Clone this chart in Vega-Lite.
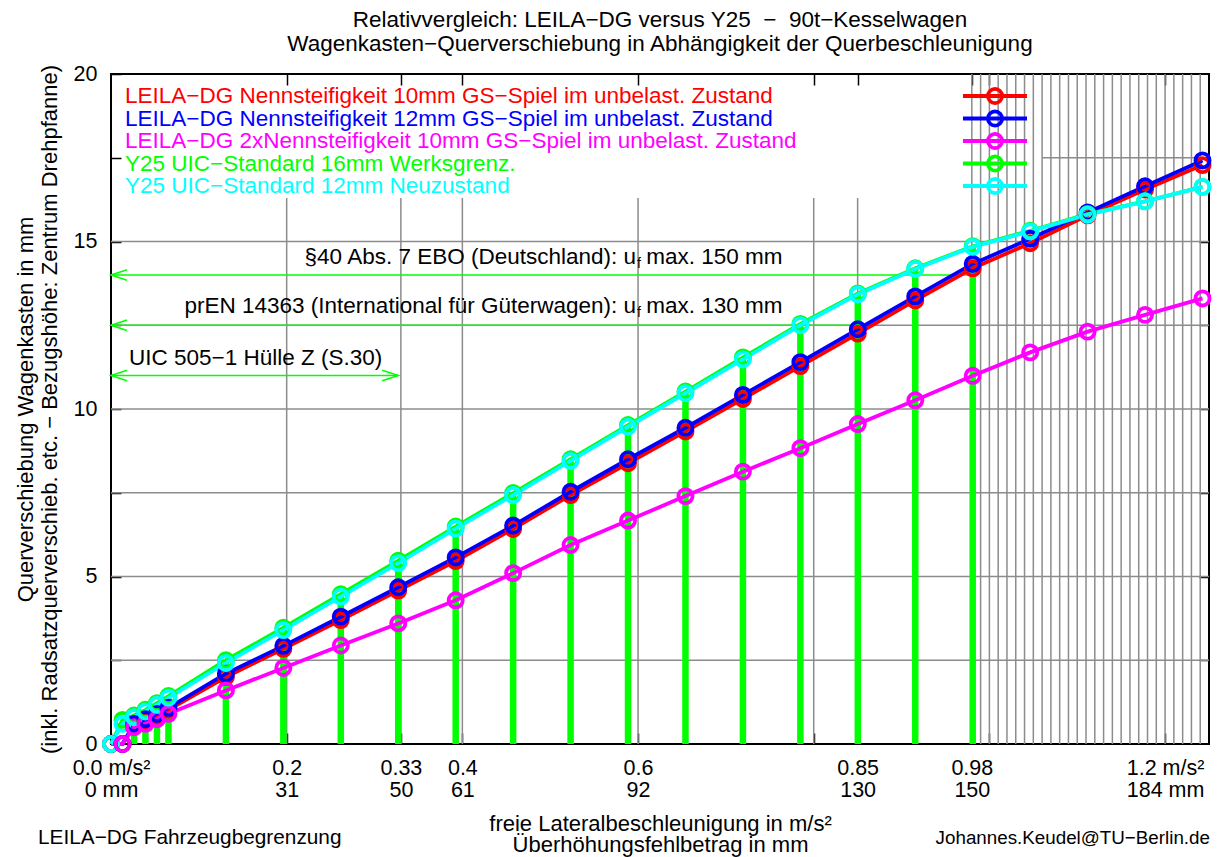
{
"$schema": "https://vega.github.io/schema/vega-lite/v6.json",
"width": 1098, "height": 670,
"autosize": {"type": "none"},
"padding": {"left": 111, "top": 74, "right": 8, "bottom": 113},
"background": "white",
"config": {
  "font": "Liberation Sans",
  "view": {"stroke": "black", "strokeWidth": 2},
  "axis": {"labelFont": "Liberation Sans", "labelFontSize": 21.5, "labelColor": "black", "titleFont": "Liberation Sans", "titleFontSize": 22, "titleFontWeight": "normal", "titleColor": "black", "tickColor": "black", "tickWidth": 1.5, "labelLineHeight": 22, "titleLineHeight": 22}
},
"title": {"text": ["Relativvergleich: LEILA−DG versus Y25 \u00a0−\u00a0 90t−Kesselwagen", "Wagenkasten−Querverschiebung in Abhängigkeit der Querbeschleunigung"], "font": "Liberation Sans", "fontSize": 22.5, "fontWeight": "normal", "color": "black", "lineHeight": 24, "anchor": "middle", "frame": "group", "offset": 8},
"datasets": {
  "main": [
    {"x": 0, "s1": 0, "s2": 0, "s3": 0, "s4": 0, "s5": 0},
    {"x": 0.0131, "s1": 0, "s2": 0, "s3": 0, "s4": 0.72, "s5": 0.6},
    {"x": 0.0262, "s1": 0.55, "s2": 0.6, "s3": 0.5, "s4": 0.85, "s5": 0.8},
    {"x": 0.0392, "s1": 0.68, "s2": 0.74, "s3": 0.6, "s4": 1.02, "s5": 0.97},
    {"x": 0.0523, "s1": 0.84, "s2": 0.9, "s3": 0.74, "s4": 1.22, "s5": 1.17},
    {"x": 0.0654, "s1": 1.02, "s2": 1.08, "s3": 0.9, "s4": 1.43, "s5": 1.38},
    {"x": 0.1308, "s1": 2.0, "s2": 2.1, "s3": 1.6, "s4": 2.5, "s5": 2.42},
    {"x": 0.1962, "s1": 2.84, "s2": 2.93, "s3": 2.27, "s4": 3.47, "s5": 3.4},
    {"x": 0.2616, "s1": 3.7, "s2": 3.8, "s3": 2.94, "s4": 4.47, "s5": 4.4},
    {"x": 0.327, "s1": 4.58, "s2": 4.68, "s3": 3.6, "s4": 5.47, "s5": 5.4},
    {"x": 0.3924, "s1": 5.46, "s2": 5.57, "s3": 4.29, "s4": 6.49, "s5": 6.43},
    {"x": 0.4578, "s1": 6.42, "s2": 6.52, "s3": 5.1, "s4": 7.49, "s5": 7.43},
    {"x": 0.5232, "s1": 7.43, "s2": 7.53, "s3": 5.94, "s4": 8.5, "s5": 8.45},
    {"x": 0.5886, "s1": 8.38, "s2": 8.5, "s3": 6.67, "s4": 9.52, "s5": 9.47},
    {"x": 0.654, "s1": 9.33, "s2": 9.44, "s3": 7.4, "s4": 10.52, "s5": 10.47},
    {"x": 0.7194, "s1": 10.3, "s2": 10.42, "s3": 8.13, "s4": 11.54, "s5": 11.48},
    {"x": 0.7848, "s1": 11.28, "s2": 11.4, "s3": 8.83, "s4": 12.54, "s5": 12.5},
    {"x": 0.8502, "s1": 12.25, "s2": 12.38, "s3": 9.55, "s4": 13.45, "s5": 13.42},
    {"x": 0.9156, "s1": 13.24, "s2": 13.36, "s3": 10.26, "s4": 14.2, "s5": 14.18},
    {"x": 0.981, "s1": 14.2, "s2": 14.33, "s3": 10.99, "s4": 14.86, "s5": 14.84},
    {"x": 1.0464, "s1": 14.95, "s2": 15.08, "s3": 11.69, "s4": 15.32, "s5": 15.3},
    {"x": 1.1118, "s1": 15.78, "s2": 15.87, "s3": 12.31, "s4": 15.82, "s5": 15.8},
    {"x": 1.1772, "s1": 16.55, "s2": 16.65, "s3": 12.81, "s4": 16.2, "s5": 16.2},
    {"x": 1.2426, "s1": 17.28, "s2": 17.42, "s3": 13.3, "s4": 16.63, "s5": 16.63}
  ],
  "gridH": [
    {"gy": 2.5, "gx1": 0, "gx2": 1.25}, {"gy": 5, "gx1": 0, "gx2": 1.25}, {"gy": 7.5, "gx1": 0, "gx2": 1.25},
    {"gy": 10, "gx1": 0, "gx2": 1.25}, {"gy": 12.5, "gx1": 0, "gx2": 1.25}, {"gy": 15, "gx1": 0, "gx2": 1.25},
    {"gy": 17.5, "gx1": 1.06, "gx2": 1.25}
  ],
  "gridV": [
    {"gx": 0.2, "gy2": 16.3}, {"gx": 0.33, "gy2": 16.3}, {"gx": 0.4, "gy2": 16.3}, {"gx": 0.6, "gy2": 16.3}, {"gx": 0.8, "gy2": 16.3}, {"gx": 0.85, "gy2": 16.3},
    {"gx": 0.98, "gy2": 20}, {"gx": 0.99, "gy2": 20}, {"gx": 1.0, "gy2": 20}, {"gx": 1.01, "gy2": 20}, {"gx": 1.02, "gy2": 20}, {"gx": 1.03, "gy2": 20},
    {"gx": 1.04, "gy2": 20}, {"gx": 1.05, "gy2": 20}, {"gx": 1.06, "gy2": 20}, {"gx": 1.07, "gy2": 20}, {"gx": 1.08, "gy2": 20}, {"gx": 1.09, "gy2": 20},
    {"gx": 1.1, "gy2": 20}, {"gx": 1.11, "gy2": 20}, {"gx": 1.12, "gy2": 20}, {"gx": 1.13, "gy2": 20}, {"gx": 1.14, "gy2": 20}, {"gx": 1.15, "gy2": 20},
    {"gx": 1.16, "gy2": 20}, {"gx": 1.17, "gy2": 20}, {"gx": 1.18, "gy2": 20}, {"gx": 1.19, "gy2": 20}, {"gx": 1.2, "gy2": 20}, {"gx": 1.21, "gy2": 20},
    {"gx": 1.22, "gy2": 20}, {"gx": 1.23, "gy2": 20}, {"gx": 1.24, "gy2": 20}
  ],
  "arrows": [
    {"y": 14.0, "x1": 0, "x2": 0.981, "both": false},
    {"y": 12.5, "x1": 0, "x2": 0.8502, "both": false},
    {"y": 11.0, "x1": 0, "x2": 0.327, "both": true}
  ],
  "notesRight": [
    {"x": 0.5977, "y": 14.54, "t": "§40 Abs. 7 EBO (Deutschland): u"},
    {"x": 0.5977, "y": 13.07, "t": "prEN 14363 (International für Güterwagen): u"}
  ],
  "notesSub": [
    {"x": 0.5988, "y": 14.54, "t": "f"},
    {"x": 0.5988, "y": 13.07, "t": "f"}
  ],
  "notesLeft": [
    {"x": 0.6094, "y": 14.54, "t": "max. 150 mm"},
    {"x": 0.6094, "y": 13.07, "t": "max. 130 mm"},
    {"x": 0.0205, "y": 11.52, "t": "UIC 505−1 Hülle Z (S.30)"}
  ],
  "footer": [
    {"x": -0.0831, "y": -2.8, "t": "LEILA−DG Fahrzeugbegrenzung", "side": "left"},
    {"x": 1.2511, "y": -2.8, "t": "Johannes.Keudel@TU−Berlin.de", "side": "right"}
  ],
  "legend": [
    {"series": "s1", "label": "LEILA−DG Nennsteifigkeit 10mm GS−Spiel im unbelast. Zustand"},
    {"series": "s2", "label": "LEILA−DG Nennsteifigkeit 12mm GS−Spiel im unbelast. Zustand"},
    {"series": "s3", "label": "LEILA−DG 2xNennsteifigkeit 10mm GS−Spiel im unbelast. Zustand"},
    {"series": "s4", "label": "Y25 UIC−Standard 16mm Werksgrenz."},
    {"series": "s5", "label": "Y25 UIC−Standard 12mm Neuzustand"}
  ]
},
"layer": [
  {
    "layer": [
      {
        "data": {"name": "gridH"},
        "mark": {"type": "rule", "color": "#8c8c8c", "strokeWidth": 1.5},
        "encoding": {
          "x": {"field": "gx1", "type": "quantitative",
            "scale": {"domain": [0, 1.25], "nice": false, "zero": false},
            "axis": {"orient": "bottom", "values": [0, 0.2, 0.33, 0.4, 0.6, 0.8, 0.85, 0.98, 1.0, 1.2], "grid": false, "domain": false, "tickSize": -11, "labelPadding": 24, "labelOverlap": false, "labelFlush": false, "labelBound": false,
              "labelExpr": "datum.value == 0 ? ['0.0 m/s²','0 mm'] : datum.value == 0.2 ? ['0.2','31'] : datum.value == 0.33 ? ['0.33','50'] : datum.value == 0.4 ? ['0.4','61'] : datum.value == 0.6 ? ['0.6','92'] : datum.value == 0.85 ? ['0.85','130'] : datum.value == 0.98 ? ['0.98','150'] : datum.value == 1.2 ? ['1.2 m/s²','184 mm'] : ''",
              "title": ["freie Lateralbeschleunigung in m/s²", "Überhöhungsfehlbetrag in mm"], "titlePadding": 13, "titleLineHeight": 21}},
          "x2": {"field": "gx2"},
          "y": {"field": "gy", "type": "quantitative",
            "scale": {"domain": [0, 20], "nice": false, "zero": false},
            "axis": {"orient": "left", "values": [0, 2.5, 5, 7.5, 10, 12.5, 15, 17.5, 20], "grid": false, "domain": false, "tickSize": -10, "labelPadding": 24,
              "labelExpr": "datum.value % 5 == 0 ? datum.label : ''",
              "title": ["Querverschiebung Wagenkasten in mm", "(inkl. Radsatzquerverschieb. etc. − Bezugshöhe: Zentrum Drehpfanne)"], "titlePadding": 12, "titleLineHeight": 24}}
        }
      },
      {
        "data": {"name": "gridV"},
        "mark": {"type": "rule", "color": "#8c8c8c", "strokeWidth": 1.5},
        "encoding": {
          "x": {"field": "gx", "type": "quantitative"},
          "y": {"field": "gy2", "type": "quantitative"},
          "y2": {"datum": 0}
        }
      },
      {
        "data": {"name": "main"},
        "transform": [{"filter": "datum.x > 0.02 && datum.x < 1"}],
        "mark": {"type": "rule", "color": "#00ff00", "strokeWidth": 6.5},
        "encoding": {
          "x": {"field": "x", "type": "quantitative"},
          "y": {"field": "s4", "type": "quantitative"},
          "y2": {"datum": 0}
        }
      },
      {
        "data": {"name": "arrows"},
        "mark": {"type": "rule", "color": "#00ff00", "strokeWidth": 1.5},
        "encoding": {
          "x": {"field": "x1", "type": "quantitative"},
          "x2": {"field": "x2"},
          "y": {"field": "y", "type": "quantitative"}
        }
      },
      {
        "data": {"name": "arrows"},
        "mark": {"type": "point", "shape": "M 2 -0.65 L 0 0 L 2 0.65", "filled": false, "stroke": "#00ff00", "strokeWidth": 1.5, "size": 256, "opacity": 1},
        "encoding": {
          "x": {"field": "x1", "type": "quantitative"},
          "y": {"field": "y", "type": "quantitative"}
        }
      },
      {
        "data": {"name": "arrows"},
        "transform": [{"filter": "datum.both"}],
        "mark": {"type": "point", "shape": "M -2 -0.65 L 0 0 L -2 0.65", "filled": false, "stroke": "#00ff00", "strokeWidth": 1.5, "size": 256, "opacity": 1},
        "encoding": {
          "x": {"field": "x2", "type": "quantitative"},
          "y": {"field": "y", "type": "quantitative"}
        }
      },
      {
        "data": {"name": "main"},
        "transform": [{"fold": ["s1", "s2", "s3", "s4", "s5"], "as": ["series", "val"]}],
        "mark": {"type": "line"},
        "encoding": {
          "x": {"field": "x", "type": "quantitative"},
          "y": {"field": "val", "type": "quantitative"},
          "color": {"field": "series", "type": "nominal", "scale": {"domain": ["s1", "s2", "s3", "s4", "s5"], "range": ["#ff0000", "#0000ff", "#ff00ff", "#00ff00", "#00ffff"]}, "legend": null},
          "strokeWidth": {"field": "series", "type": "nominal", "scale": {"domain": ["s1", "s2", "s3", "s4", "s5"], "range": [3.8, 3.8, 3, 3, 1.6]}, "legend": null}
        }
      },
      {
        "data": {"name": "main"},
        "transform": [{"fold": ["s1", "s2", "s3", "s4", "s5"], "as": ["series", "val"]}],
        "mark": {"type": "point", "filled": false, "size": 200, "opacity": 1},
        "encoding": {
          "x": {"field": "x", "type": "quantitative"},
          "y": {"field": "val", "type": "quantitative"},
          "color": {"field": "series", "type": "nominal", "legend": null},
          "strokeWidth": {"field": "series", "type": "nominal", "legend": null}
        }
      },
      {
        "data": {"name": "notesRight"},
        "mark": {"type": "text", "align": "right", "baseline": "middle", "font": "Liberation Sans", "fontSize": 22.5, "color": "black"},
        "encoding": {
          "x": {"field": "x", "type": "quantitative"},
          "y": {"field": "y", "type": "quantitative"},
          "text": {"field": "t", "type": "nominal"}
        }
      },
      {
        "data": {"name": "notesSub"},
        "mark": {"type": "text", "align": "left", "baseline": "middle", "font": "Liberation Sans", "fontSize": 14, "dy": 7, "color": "black"},
        "encoding": {
          "x": {"field": "x", "type": "quantitative"},
          "y": {"field": "y", "type": "quantitative"},
          "text": {"field": "t", "type": "nominal"}
        }
      },
      {
        "data": {"name": "notesLeft"},
        "mark": {"type": "text", "align": "left", "baseline": "middle", "font": "Liberation Sans", "fontSize": 22.5, "color": "black"},
        "encoding": {
          "x": {"field": "x", "type": "quantitative"},
          "y": {"field": "y", "type": "quantitative"},
          "text": {"field": "t", "type": "nominal"}
        }
      },
      {
        "data": {"name": "footer"},
        "transform": [{"filter": "datum.side == 'left'"}],
        "mark": {"type": "text", "align": "left", "baseline": "middle", "font": "Liberation Sans", "fontSize": 20.8, "color": "black"},
        "encoding": {
          "x": {"field": "x", "type": "quantitative"},
          "y": {"field": "y", "type": "quantitative"},
          "text": {"field": "t", "type": "nominal"}
        }
      },
      {
        "data": {"name": "footer"},
        "transform": [{"filter": "datum.side == 'right'"}],
        "mark": {"type": "text", "align": "right", "baseline": "middle", "font": "Liberation Sans", "fontSize": 18.8, "color": "black"},
        "encoding": {
          "x": {"field": "x", "type": "quantitative"},
          "y": {"field": "y", "type": "quantitative"},
          "text": {"field": "t", "type": "nominal"}
        }
      }
    ]
  },
  {
    "data": {"name": "main"},
    "mark": {"type": "point", "opacity": 0},
    "encoding": {
      "x": {"field": "x", "type": "quantitative", "scale": {"domain": [0, 1.25], "nice": false, "zero": false},
        "axis": {"orient": "top", "values": [0.2, 0.33, 0.4, 0.6, 0.8, 0.85, 0.98, 1.0, 1.2], "labels": false, "title": null, "grid": false, "domain": false, "tickSize": -11}},
      "y": {"field": "s1", "type": "quantitative", "scale": {"domain": [0, 20], "nice": false, "zero": false},
        "axis": {"orient": "right", "values": [2.5, 5, 7.5, 10, 12.5, 15, 17.5], "labels": false, "title": null, "grid": false, "domain": false, "tickSize": -10}}
    }
  },
  {
    "data": {"name": "legend"},
    "layer": [
      {
        "mark": {"type": "text", "align": "left", "baseline": "middle", "font": "Liberation Sans", "fontSize": 22.5},
        "encoding": {
          "x": {"datum": 0.016, "type": "quantitative", "scale": {"domain": [0, 1.25], "nice": false, "zero": false}, "axis": null},
          "y": {"field": "series", "type": "nominal", "scale": {"type": "point", "domain": ["s1", "s2", "s3", "s4", "s5"], "range": [22, 112], "padding": 0}, "axis": null},
          "text": {"field": "label", "type": "nominal"},
          "color": {"field": "series", "type": "nominal", "legend": null}
        }
      },
      {
        "mark": {"type": "rule"},
        "encoding": {
          "x": {"datum": 0.9699, "type": "quantitative"},
          "x2": {"datum": 1.0428},
          "y": {"field": "series", "type": "nominal"},
          "color": {"field": "series", "type": "nominal", "legend": null},
          "strokeWidth": {"field": "series", "type": "nominal", "legend": null}
        }
      },
      {
        "mark": {"type": "point", "filled": false, "size": 200, "opacity": 1},
        "encoding": {
          "x": {"datum": 1.0064, "type": "quantitative"},
          "y": {"field": "series", "type": "nominal"},
          "color": {"field": "series", "type": "nominal", "legend": null},
          "strokeWidth": {"field": "series", "type": "nominal", "legend": null}
        }
      }
    ]
  }
],
"resolve": {"scale": {"x": "independent", "y": "independent"}}
}
